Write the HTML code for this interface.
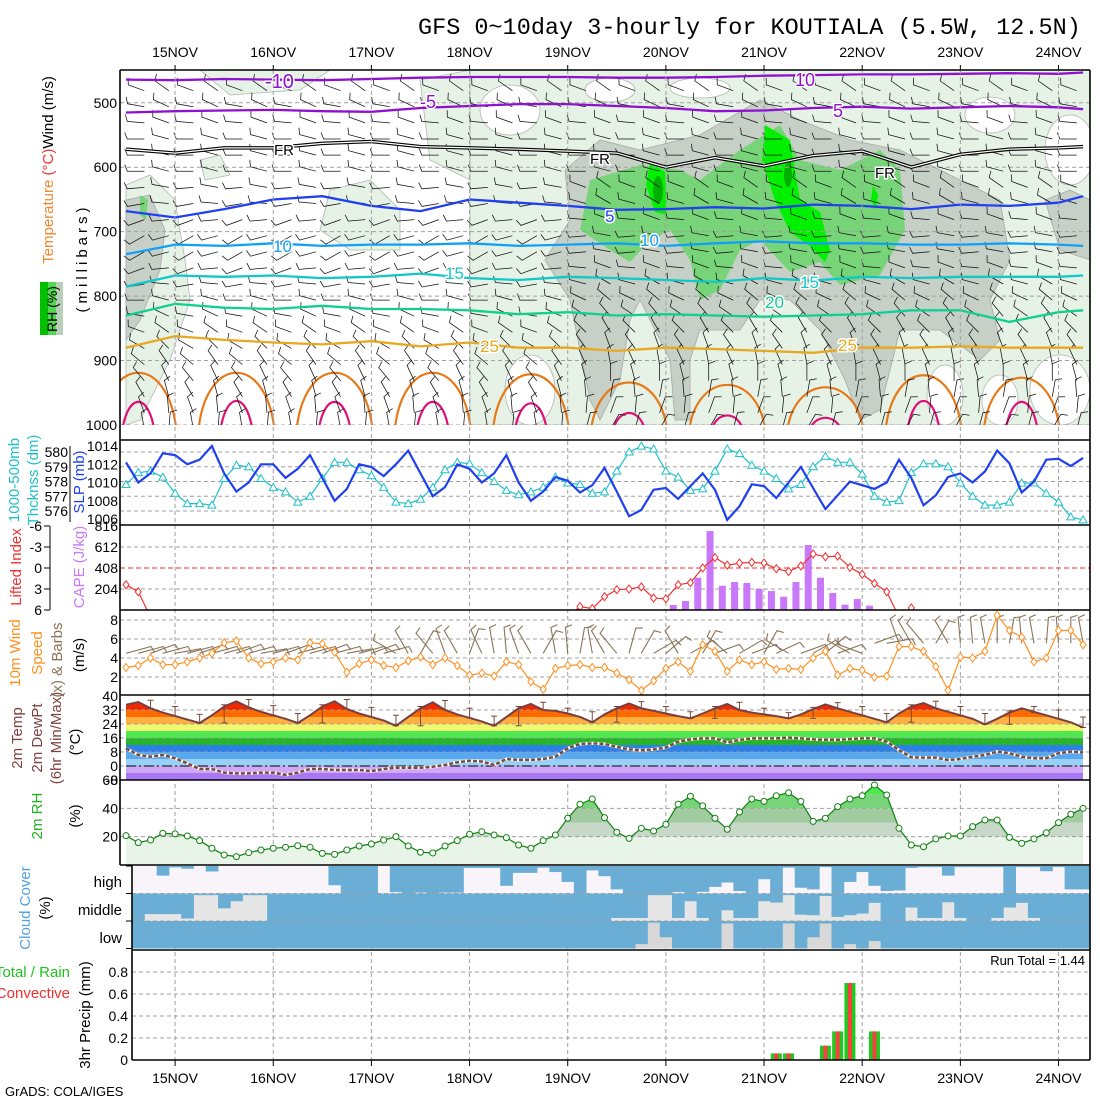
<!DOCTYPE html>
<html><head><meta charset="utf-8"><title>GFS meteogram KOUTIALA</title>
<style>
html,body{margin:0;padding:0;background:#fff;}
svg{display:block;font-family:"Liberation Sans",sans-serif;}
text{font-family:"Liberation Sans",sans-serif;}
</style></head>
<body>
<svg id="chart" xmlns="http://www.w3.org/2000/svg" width="1100" height="1100" viewBox="0 0 1100 1100">
<rect x="0" y="0" width="1100" height="1100" fill="#fff"/>
<text x="418" y="34" font-family="Liberation Mono, monospace" style="font-family:'Liberation Mono',monospace" font-size="23.5" fill="#000">GFS 0~10day 3-hourly for KOUTIALA (5.5W, 12.5N)</text>
<g id="layer-top"></g>
<g id="layer-main"></g>
<g id="labels" font-size="15">
  <text transform="translate(53,170) rotate(-90)" text-anchor="middle"><tspan fill="#f08830">Temperature</tspan><tspan fill="#f03030"> (°C)</tspan><tspan fill="#000">Wind (m/s)</tspan></text>
  <text transform="translate(87,258) rotate(-90)" text-anchor="middle" letter-spacing="4" fill="#000">(millibars)</text>
  <rect x="40" y="282" width="8" height="53" fill="#00c000"/>
  <rect x="48" y="282" width="8" height="53" fill="#50d850"/>
  <rect x="56" y="282" width="7" height="53" fill="#b8d0b8"/>
  <text transform="translate(57,309) rotate(-90)" text-anchor="middle" fill="#000" font-size="14">RH (%)</text>
  <text transform="translate(19,480) rotate(-90)" text-anchor="middle" fill="#20c0c8">1000-500mb</text>
  <text transform="translate(38,480) rotate(-90)" text-anchor="middle" fill="#20c0c8">Thcknss (dm)</text>
  <text transform="translate(84,482) rotate(-90)" text-anchor="middle" fill="#2040f0">SLP (mb)</text>
  <text transform="translate(21,567) rotate(-90)" text-anchor="middle" fill="#f03030">Lifted Index</text>
  <text transform="translate(84,567) rotate(-90)" text-anchor="middle" fill="#c878f8">CAPE (J/kg)</text>
  <text transform="translate(20,653) rotate(-90)" text-anchor="middle" fill="#ff9020">10m Wind</text>
  <text transform="translate(42,653) rotate(-90)" text-anchor="middle" fill="#ff9020">Speed</text>
  <text transform="translate(62,660) rotate(-90)" text-anchor="middle" fill="#8a7458">(x) &amp; Barbs</text>
  <text transform="translate(84,655) rotate(-90)" text-anchor="middle" fill="#000">(m/s)</text>
  <text transform="translate(22,738) rotate(-90)" text-anchor="middle" fill="#804040">2m Temp</text>
  <text transform="translate(42,738) rotate(-90)" text-anchor="middle" fill="#804040">2m DewPt</text>
  <text transform="translate(61,738) rotate(-90)" text-anchor="middle" fill="#804040">(6hr Min/Max)</text>
  <text transform="translate(80,742) rotate(-90)" text-anchor="middle" fill="#000">(°C)</text>
  <text transform="translate(42,816) rotate(-90)" text-anchor="middle" fill="#20b020">2m RH</text>
  <text transform="translate(80,816) rotate(-90)" text-anchor="middle" fill="#000">(%)</text>
  <text transform="translate(30,908) rotate(-90)" text-anchor="middle" fill="#50a0e0">Cloud Cover</text>
  <text transform="translate(50,908) rotate(-90)" text-anchor="middle" fill="#000">(%)</text>
  <text x="122" y="887" text-anchor="end" fill="#000">high</text>
  <text x="122" y="915" text-anchor="end" fill="#000">middle</text>
  <text x="122" y="943" text-anchor="end" fill="#000">low</text>
  <text x="70" y="977" text-anchor="end" fill="#20c020">Total / Rain</text>
  <text x="70" y="998" text-anchor="end" fill="#f03030">Convective</text>
  <text transform="translate(90,1015) rotate(-90)" text-anchor="middle" fill="#000">3hr Precip (mm)</text>
  <text x="1085" y="965" text-anchor="end" fill="#000" font-size="13">Run Total = 1.44</text>
  <text x="5" y="1096" fill="#000" font-size="13">GrADS: COLA/IGES</text>
</g>
</svg>
<script>
// ---------------- data ----------------
const dayLabels = ['15NOV','16NOV','17NOV','18NOV','19NOV','20NOV','21NOV','22NOV','23NOV','24NOV'];
const slp = [1012.2,1010,1011,1013.2,1013,1012,1012.5,1014,1011,1009,1010,1012,1012,1010.5,1011.5,1013,1010.5,1008,1009.3,1012,1011.7,1010.7,1012,
 1013.5,1011,1008.5,1009.5,1012,1011.5,1010,1011,1013,1010,1008,1009,
 1010.6,1010.2,1008.9,1009.7,1011.6,1009,1006.3,1007,1009.2,1009.4,1008.2,1009.6,1011,1009.2,1005.9,1007.4,1009.8,1009.6,1008.3,1010,1011.7,1009.4,1007.1,1008.6,1010.1,1009.7,1009.3,1010,1012.5,1010.5,1007.5,1008.6,1010.6,1011,1010,1011.2,1013.5,1012.1,1008.9,1010.1,1012.5,1012.6,1011.8,1012.7];
const thickness = [577.8,578.6,578.7,578.3,577.2,576.5,576.5,576.4,578.2,579.1,579,578.2,577.6,577.3,576.6,577,578.2,579.3,579.3,578.8,578.4,577.6,576.6,
 576.5,576.8,577.6,578.8,579.3,579.2,578.6,578,577.4,577.1,577.3,577.6,
 578.3,577.9,577.8,577.2,577.3,578.7,580,580.4,580.2,578.7,578.3,577.4,577.5,578.7,580.2,579.9,579.1,578.7,578.2,577.5,577.8,579,579.7,579.3,579.3,578.5,577,576.6,576.7,578.6,579.2,579.2,579,577.9,577,576.4,576.4,576.6,577.9,577.9,577.2,576.6,575.6,575.4];
const liftedIndex = [2.4,3.4,7,7,7,7,7,7,7,7,7,7,7,7,7,7,7,7,7,7,7,7,7,7,7,7,7,7,7,7,7,7,7,7,7,7,7,
 5.5,5.8,4.1,3.1,3,2.7,4.3,4.4,2.4,2.1,0,-1.5,-0.4,-0.7,-0.8,-0.7,0.1,0.5,-0.3,-2,-1.6,-1.7,-0.1,0.9,2.2,3.4,
 7,5.7,7,7,7,7,7,7,7,7,7,7,7,7,7,7];
const capeStart = 45;
const cape = [49,87,314,767,236,272,262,204,184,129,272,631,314,165,52,107,42];
const windSpeed = [3.0,3.2,4.0,3.3,3.3,3.6,4.0,4.5,5.6,5.8,4.0,3.4,3.6,4.0,3.8,5.6,5.5,4.6,2.5,3.4,3.8,3.2,
 3.0,3.7,4.1,3.3,4.0,3.2,2.2,2.4,2.1,3.6,3.3,1.5,0.7,2.9,3.2,3.3,3.0,3.0,2.4,1.7,0.6,1.6,2.9,3.6,2.6,5.4,4.7,2.6,3.8,3.3,3.6,2.8,2.9,2.8,4.0,4.7,2.2,2.9,2.7,2.0,2.1,5.2,5.2,4.7,3.1,0.6,4.1,4.0,4.7,8.5,6.9,6.2,3.6,4.0,6.9,6.9,5.4];
const windDir = [-15,-15,-20,-15,-10,-15,-20,-15,-15,-20,-15,-10,-15,-20,-15,-15,-20,-15,-10,-15,-20,-15,
 -150,-120,-60,-130,-110,-120,-70,-115,-100,-95,-110,-120,-60,-100,-95,-80,-100,-120,-130,-75,-60,-30,-40,-120,-30,-60,-20,-140,-30,-20,-60,-25,-150,-20,-30,-40,-20,-150,-160,-20,-10,-110,-120,-130,-60,-120,-95,-95,-100,-90,-80,-95,-100,-85,-95,-90,-100,-90,-95];
const temp2m = [35,36.6,33,30.5,28.5,26.5,24.6,29,34,37,33.5,31,29,27,24.6,29,34,37,32.5,30,28,26,23,28,33,36.4,32,29.5,27.5,25.5,23,28,33,35.4,32,31.5,30,28,25,29.5,33,35.8,33,31.5,30,28.5,27.2,30,33,35.4,32,30.5,29.5,28.5,27.2,29.5,32.5,35.2,33,31,29,27,25,30,34,36,33,31,29,27,23.8,27,30.5,33,31,29,27,25,22];
const dewpt2m = [10.1,6.3,5.3,6.3,4.4,1.5,-1.7,-1.7,-3.8,-4.2,-4.2,-3.8,-3.8,-5.1,-3.8,-1.7,-1.7,-2.3,-2.3,-2.3,-2.9,-1.7,
 -1.0,-1.0,-1.0,-0.4,0.6,2.1,3.0,2.6,0.6,4.0,3.5,3.5,4.0,5.3,10.1,12.6,13,12.6,11,9.5,9,9.5,10.5,13.9,15.2,15.8,15.8,13.5,14.9,15.8,15.8,15.8,16.2,15.8,15.2,14.9,14.9,15.4,15.8,15.8,13.9,9.1,5,4.8,4.8,3.4,4,5.3,6.3,8.2,7.3,5.3,4.4,4.4,7.3,8.2,7.8];
const rh2m = [20.7,15.8,17.6,22.4,22,20.5,17.2,11.8,7.1,5.9,8.7,10.6,11.8,12.5,13.6,12.5,8.2,7.5,10.6,13.4,14.8,17.6,20,
 13.4,9,8.5,13.4,17.2,21.7,23.5,21.2,19.3,14.1,11.8,17.2,21.2,33,42.9,46.6,33.4,23.1,18.8,25.9,24,28.7,42.9,48.5,41.7,33,25.2,37.4,46.6,44.9,48.9,51,44.9,30.8,33,41.2,46.6,48.9,56.5,49.4,25.9,14.1,12.9,18.4,20.5,20.5,27.1,31.8,31.8,19.5,15.3,18.4,22.8,29.9,35.8,40];
const cloudHigh = [0,0,0,35,5,10,0,20,0,0,0,0,0,0,0,0,0,70,100,100,100,0,95,100,97,100,97,97,7,7,7,72,25,25,6,22,58,100,16,37,85,100,100,100,100,95,100,94,76,60,91,100,48,100,6,79,85,4,100,58,22,72,91,89,7,4,4,35,4,4,4,4,100,4,4,19,4,85,85];
const cloudMid = [100,100,75,75,75,91,6,6,54,28,6,6,100,100,100,100,100,100,100,100,100,100,100,100,100,100,100,100,100,100,100,100,100,100,100,100,100,100,100,100,89,89,89,6,6,89,28,89,100,61,89,89,28,33,6,77,79,9,85,79,73,34,100,100,51,89,89,32,89,100,100,89,51,34,89,100,100,100,100];
const cloudLow = [100,100,100,100,100,100,100,100,100,100,100,100,100,100,100,100,100,100,100,100,100,100,100,100,100,100,100,100,100,100,100,100,100,100,100,100,100,100,100,100,100,100,84,6,59,100,100,100,100,9,100,100,100,100,9,100,59,9,100,84,100,73,100,100,100,100,100,100,100,100,100,100,100,100,100,100,100,100,100];
const precipIdx = [53,54,57,58,59,61];
const precipTotal = [0.06,0.06,0.13,0.26,0.70,0.26];
const precipConv = [0.06,0.06,0.13,0.26,0.70,0.26];
const isoIdx = [0,4,8,12,16,20,24,28,32,36,40,44,48,52,56,60,64,68,72,76,78];
const isoM10 = [464,465,463,464,465,463,461,460,460,460,461,461,460,458,457,456,456,455,454,455,453];
const isoM5 = [515,513,512,511,513,514,508,505,502,502,505,508,513,512,508,506,509,507,505,507,510];
const isoFR = [572,578,570,570,563,560,568,570,572,575,578,600,585,598,582,575,600,580,572,570,568];
const iso5 = [668,678,665,650,645,660,668,650,655,660,666,665,662,664,658,660,665,658,660,655,645];
const iso10 = [735,720,722,718,722,720,720,718,722,720,718,722,718,715,718,718,720,720,718,720,722];
const iso15 = [785,768,770,768,772,770,765,772,775,770,772,775,778,772,776,770,772,770,770,770,768];
const iso20 = [830,812,818,820,815,820,820,822,828,825,830,828,830,832,830,828,822,822,840,825,822];
const iso25 = [880,862,868,872,875,870,878,872,880,880,885,880,882,885,888,880,880,878,880,880,880];
const archIdx = [1,9,17,25,33,41,49,57,65,73];
const arch30Top = [905,905,905,905,908,925,930,935,910,915];
const arch35Top = [962,960,962,962,965,985,990,995,960,962];
const barbLevels = [475,500,525,550,575,600,625,650,675,700,725,750,775,800,825,850,875,900,925,950,975,1000];
const barbLevelAngle = [200,190,185,180,180,180,175,170,160,150,150,160,170,180,190,200,210,220,230,240,250,260];

// ---------------- axes ----------------
const NS = 'http://www.w3.org/2000/svg';
const X0 = 126, DX = 12.27;
function xI(i){ return X0 + DX*i; }
function yP(p){ return 425 - (1000-p)*0.6444; }
function ySlp(v){ return 446 + (1014-v)*9.125; }
function yThk(v){ return 452 + (580-v)*14.75; }
function yCape(v){ return 610 - v*(84/816); }
function yLI(v){ return 568 + v*7; }
function yW(v){ return 696 - v*9.5; }
function yT(v){ return 766 - v*1.75; }
function yRH(v){ return 865 - v*1.417; }
function yPr(v){ return 1060 - v*110; }

const topLayer = document.getElementById('layer-top');
const mainLayer = document.getElementById('layer-main');
function add(parent, tag, attrs, txt){
  const el = document.createElementNS(NS, tag);
  for (const k in attrs) el.setAttribute(k, attrs[k]);
  if (txt !== undefined) el.textContent = txt;
  parent.appendChild(el);
  return el;
}
function linePath(xs, ys){ return xs.map((x,k)=>(k?'L':'M')+x.toFixed(1)+','+ys[k].toFixed(1)).join(''); }

const defs = add(document.getElementById('chart'), 'defs', {});
function makeClip(id, x, y, w, h){ const c = add(defs,'clipPath',{id:id}); add(c,'rect',{x:x,y:y,width:w,height:h}); }
makeClip('cTop',120,70,970,355); makeClip('cLI',120,525,970,85); makeClip('cW',120,610,970,85);

// ---------------- top panel ----------------
const gTop = add(topLayer,'g',{'clip-path':'url(#cTop)'});


const lightAreas = [
 'M470,70 L1090,70 L1090,425 L470,425 Z',
 'M126,185 L150,175 L175,200 L185,260 L190,300 L170,360 L140,420 L126,425 Z',
 'M200,70 L330,70 L300,90 L230,95 Z',
 'M330,190 L370,180 L400,210 L400,250 L350,250 L320,230 Z',
 'M420,80 L470,70 L470,180 L430,160 Z',
 'M200,160 L220,155 L230,175 L205,180 Z'
];
lightAreas.forEach(d=>{ const e = add(gTop,'path',{d:d, fill:'#e6f2e6', stroke:'#b0b8b0','stroke-width':0.8});
 
  });
const whiteAreas = [[610,90,25,12],[700,88,30,10],[990,115,25,18],[1070,150,25,35],[1060,390,30,35],[1000,400,18,25],[510,110,30,25],[530,390,25,35],[945,395,18,30]];
whiteAreas.forEach(a=>{ const e = add(gTop,'ellipse',{cx:a[0],cy:a[1],rx:a[2],ry:a[3],fill:'#fff',stroke:'#b0b8b0','stroke-width':0.8});
 
  });
const greyD = 'M565,170 L600,140 L640,150 L700,135 L760,100 L800,120 L850,140 L900,150 L960,180 L1000,200 L1010,260 L990,300 L1000,340 L980,360 L940,330 L900,330 L880,410 L860,420 L845,380 L820,330 L790,300 L760,300 L740,330 L700,330 L690,360 L690,420 L675,420 L670,360 L640,300 L630,320 L620,380 L600,420 L590,400 L580,350 L570,300 L545,260 L570,220 Z M126,200 L150,195 L165,230 L160,270 L140,320 L126,340 Z M1045,200 L1070,190 L1090,200 L1090,260 L1060,250 Z';
const grey = add(gTop,'path',{d:greyD, fill:'#c6d0c6', stroke:'#a8a8a8','stroke-width':0.8});


const greenD = 'M590,180 L640,165 L680,170 L700,180 L740,150 L780,125 L800,160 L840,170 L880,150 L900,170 L905,230 L880,275 L840,285 L820,262 L790,272 L760,240 L740,250 L720,290 L700,300 L690,260 L670,230 L650,240 L630,262 L610,250 L580,230 Z M140,195 L148,200 L146,220 L140,215 Z';
const green = add(gTop,'path',{d:greenD, fill:'#78d478'});


const brightD = 'M650,162 L665,172 L667,215 L655,212 L646,185 Z M765,125 L790,140 L800,200 L820,212 L830,250 L825,262 L810,246 L790,232 L775,200 L762,160 Z M873,185 L878,195 L876,210 L871,200 Z';
const bright = add(gTop,'path',{d:brightD, fill:'#00f000'});


[[658,190,5,14],[788,175,4,12]].forEach(a=>{ const e = add(gTop,'ellipse',{cx:a[0],cy:a[1],rx:a[2],ry:a[3],fill:'#00b000'});
 
  });

[500,600,700,800,900,1000].forEach(p=>{ const e = add(gTop,'line',{x1:120,x2:1090,y1:yP(p),y2:yP(p),stroke:'#a0a0a0','stroke-dasharray':'4,3','stroke-width':1});
 
  });

archIdx.forEach((ai,k)=>{
  const cx = xI(ai), b = yP(1000), t30 = yP(arch30Top[k]), t35 = yP(arch35Top[k]);
  const a30 = add(gTop,'path',{d:`M${cx-38},${b+5} C${cx-30},${t30-10} ${cx+30},${t30-10} ${cx+38},${b+5}`, fill:'none', stroke:'#e87818','stroke-width':2.2});
  
  
  const a35 = add(gTop,'path',{d:`M${cx-16},${b+5} C${cx-10},${t35-8} ${cx+10},${t35-8} ${cx+16},${b+5}`, fill:'none', stroke:'#e0107a','stroke-width':2.2});
  
  
});

barbLevels.forEach((p,li)=>{
  for (let i=1;i<79;i+=2){
    const x = xI(i)+6, y = yP(p) + 4;
    const shift = [0,15,-10,5][i%4===1?0:1] + (i>36 && p>600 ? 25 : 0);
    const a = (barbLevelAngle[li] + shift) * Math.PI/180;
    const x2 = x + 17*Math.cos(a), y2 = y + 17*Math.sin(a);
    const a2 = a + 1.2;
    const b = add(gTop,'path',{d:`M${x.toFixed(1)},${y.toFixed(1)}L${x2.toFixed(1)},${y2.toFixed(1)}L${(x2+7*Math.cos(a2)).toFixed(1)},${(y2+7*Math.sin(a2)).toFixed(1)}`, fill:'none', stroke:'#111','stroke-width':0.75});
    
    
  }
});

const isoXs = isoIdx.map(xI);
[[isoM10,'#9010d0','isotherm-minus10'],[isoM5,'#9010d0','isotherm-minus5'],[iso5,'#2040f0','isotherm-5'],[iso10,'#10a0f8','isotherm-10'],[iso15,'#10c8c8','isotherm-15'],[iso20,'#10d090','isotherm-20'],[iso25,'#e8a820','isotherm-25']].forEach(s=>{
  const e = add(gTop,'path',{d:linePath(isoXs, s[0].map(yP)), fill:'none', stroke:s[1], 'stroke-width':2.3});
  
  
});
const fr1 = add(gTop,'path',{d:linePath(isoXs, isoFR.map(yP)), fill:'none', stroke:'#000','stroke-width':3.5});


const fr2 = add(gTop,'path',{d:linePath(isoXs, isoFR.map(yP)), fill:'none', stroke:'#fff','stroke-width':1.2});


[[265,88,'-10','#9010d0',20],[795,86,'10','#9010d0',18],[420,108,'-5','#9010d0',18],[833,117,'5','#9010d0',18],[274,155,'FR','#000',15],[590,164,'FR','#000',15],[875,178,'FR','#000',15],[605,222,'5','#2040f0',17],[273,252,'10','#10a0f8',17],[640,246,'10','#10a0f8',17],[445,279,'15','#10c8c8',17],[800,288,'15','#10c8c8',17],[765,308,'20','#10d090',17],[480,352,'25','#e8a820',17],[838,351,'25','#e8a820',17]].forEach(l=>{
  const t = add(gTop,'text',{x:l[0],y:l[1],fill:l[3],'font-size':l[4],stroke:'#fff','stroke-width':3,'paint-order':'stroke'}, l[2]);
  
  
});

// ---------------- shared grid / frames ----------------
dayLabels.forEach((d,k)=>{
  const x = xI(4+8*k);
  const g = add(mainLayer,'line',{x1:x,x2:x,y1:70,y2:1060,stroke:'#a0a0a0','stroke-dasharray':'4,3','stroke-width':1});
  
  
  const t1 = add(mainLayer,'text',{x:x,y:57,'text-anchor':'middle','font-size':14,fill:'#000'}, d);
  
  
  const t2 = add(mainLayer,'text',{x:x,y:1083,'text-anchor':'middle','font-size':14,fill:'#000'}, d);
  
  
  const tk1 = add(mainLayer,'line',{x1:x,x2:x,y1:65,y2:70,stroke:'#000'});
  
  
  const tk2 = add(mainLayer,'line',{x1:x,x2:x,y1:1060,y2:1066,stroke:'#000'});
  
  
});
function hgrid(y, x1, color, dash){ const e = add(mainLayer,'line',{x1:x1||120,x2:1090,y1:y,y2:y,stroke:color||'#a0a0a0','stroke-dasharray':dash||'4,3','stroke-width':1});
  
   }
function tickLabel(x, y, txt, anchor){ const e = add(mainLayer,'text',{x:x,y:y+5,'text-anchor':anchor||'end','font-size':14,fill:'#000'}, txt);
  
   }
[500,600,700,800,900,1000].forEach(p=>tickLabel(117,yP(p),String(p)));

// ---------------- SLP / thickness ----------------
[580,579,578,577,576].forEach(v=>{ hgrid(yThk(v)); tickLabel(68,yThk(v),String(v)); });
[1014,1012,1010,1008,1006].forEach(v=>tickLabel(118,ySlp(v),String(v)));
const idxs = slp.map((_,i)=>i);
const thkLine = add(mainLayer,'path',{d:linePath(idxs.map(xI), thickness.map(yThk)), fill:'none', stroke:'#20c0c8','stroke-width':1.2});


thickness.forEach((v,i)=>{ const x=xI(i), y=yThk(v);
  const m = add(mainLayer,'path',{d:`M${x},${y-4}L${x+4},${y+3}L${x-4},${y+3}Z`, fill:'#fff', stroke:'#20c0c8','stroke-width':1});
  
   });
const slpLine = add(mainLayer,'path',{d:linePath(idxs.map(xI), slp.map(ySlp)), fill:'none', stroke:'#2040f0','stroke-width':2.2});



// ---------------- CAPE / LI ----------------
[547,589].forEach(y=>hgrid(y));
hgrid(568,120,'#f03030','5,3');
[['816',526],['612',547],['408',568],['204',589]].forEach(a=>tickLabel(118,a[1],a[0]));
[[-6,'-6'],[-3,'-3'],[0,'0'],[3,'3'],[6,'6']].forEach(a=>{ tickLabel(42,yLI(a[0]),a[1]);
  const tk = add(mainLayer,'line',{x1:44,x2:50,y1:yLI(a[0]),y2:yLI(a[0]),stroke:'#000'});
  
   });
const liAxis = add(mainLayer,'line',{x1:50,x2:50,y1:526,y2:610,stroke:'#000'});


const thkAxis = add(mainLayer,'line',{x1:70,x2:70,y1:446,y2:522,stroke:'#000'});


cape.forEach((v,k)=>{ const x = xI(capeStart+k-0.4);
  const b = add(mainLayer,'rect',{x:x-3.5,y:yCape(v),width:7,height:610-yCape(v),fill:'#c878f8'});
  
   });
const gLI = add(mainLayer,'g',{'clip-path':'url(#cLI)'});


const liLine = add(gLI,'path',{d:linePath(idxs.map(xI), liftedIndex.map(yLI)), fill:'none', stroke:'#f03030','stroke-width':1.2});


liftedIndex.forEach((v,i)=>{ if(v<6.5){ const x=xI(i), y=yLI(v);
  const m = add(gLI,'path',{d:`M${x},${y-4}L${x+3},${y}L${x},${y+4}L${x-3},${y}Z`, fill:'#fff', stroke:'#f03030','stroke-width':1});
  
   } });

// ---------------- 10m wind ----------------
[[8,'8'],[6,'6'],[4,'4'],[2,'2']].forEach(a=>{ hgrid(yW(a[0])); tickLabel(118,yW(a[0]),a[1]); });
const gW = add(mainLayer,'g',{'clip-path':'url(#cW)'});


windDir.forEach((d,i)=>{ const x=xI(i), y=yW(4.5)+ (i>60?-10:0);
  const a = d*Math.PI/180, L = 26;
  const x2 = x+L*Math.cos(a), y2 = y+L*Math.sin(a), a2 = a+1.3;
  const b = add(gW,'path',{d:`M${x.toFixed(1)},${y.toFixed(1)}L${x2.toFixed(1)},${y2.toFixed(1)}L${(x2+7*Math.cos(a2)).toFixed(1)},${(y2+7*Math.sin(a2)).toFixed(1)}`, fill:'none', stroke:'#8a7458','stroke-width':1.1});
  
   });
const wLine = add(gW,'path',{d:linePath(idxs.map(xI), windSpeed.map(yW)), fill:'none', stroke:'#ff9020','stroke-width':1.2});


windSpeed.forEach((v,i)=>{ const x=xI(i), y=yW(v);
  const m = add(gW,'path',{d:`M${x},${y-4}L${x+3},${y}L${x},${y+4}L${x-3},${y}Z`, fill:'#fff', stroke:'#ff9020','stroke-width':1});
  
   });

// ---------------- temperature ----------------
const tempBands = [[-8,-4,'#a878f4'],[-4,0,'#d0a8f8'],[0,4,'#98d0f8'],[4,8,'#58a8f0'],[8,12,'#2c80e8'],[12,16,'#28b428'],[16,20,'#50e850'],[20,24,'#f0f870'],[24,28,'#ffb040'],[28,32,'#ff6a00'],[32,40,'#f02a00']];
const tClip = add(defs,'clipPath',{id:'cTemp'});
add(tClip,'path',{d:linePath(idxs.map(xI), temp2m.map(yT)) + `L${xI(78)},780L${xI(0)},780Z`});
const gT = add(mainLayer,'g',{'clip-path':'url(#cTemp)'});


tempBands.forEach(b=>{ const r = add(gT,'rect',{x:xI(0),y:yT(b[1]),width:xI(78)-xI(0),height:yT(b[0])-yT(b[1]),fill:b[2]});
  
   });
[[40,'40'],[32,'32'],[24,'24'],[16,'16'],[8,'8'],[0,'0'],[-8,'-8']].forEach(a=>{ if(a[0]<40&&a[0]>-8) hgrid(yT(a[0])); tickLabel(118,yT(a[0]),a[1]); });
hgrid(yT(0),126,'#000','10,3,2,3');
temp2m.forEach((v,i)=>{ if(i%2===0 && i>=2){ const w=temp2m.slice(i-2,i+1); const hi=Math.max(...w), lo=Math.min(...w); const x=xI(i);
  const e = add(mainLayer,'path',{d:`M${x},${yT(hi+1)}L${x},${yT(lo)}M${x-3},${yT(hi+1)}L${x+3},${yT(hi+1)}M${x-3},${yT(lo)}L${x+3},${yT(lo)}`, stroke:'#7a4a3a','stroke-width':1, fill:'none'});
  
   } });
const tLine = add(mainLayer,'path',{d:linePath(idxs.map(xI), temp2m.map(yT)), fill:'none', stroke:'#7a4040','stroke-width':2});


const dLine0 = add(mainLayer,'path',{d:linePath(idxs.map(xI), dewpt2m.map(yT)), fill:'none', stroke:'#fff','stroke-width':3});


const dLine = add(mainLayer,'path',{d:linePath(idxs.map(xI), dewpt2m.map(yT)), fill:'none', stroke:'#7a4a3a','stroke-width':2.5,'stroke-dasharray':'4,2'});



// ---------------- RH ----------------
const rhBands = [[0,20,'#e8f4e8'],[20,30,'#c8d8c8'],[30,40,'#a0cca0'],[40,50,'#78d478'],[50,60,'#50e850']];
const rClip = add(defs,'clipPath',{id:'cRH'});
add(rClip,'path',{d:linePath(idxs.map(xI), rh2m.map(yRH)) + `L${xI(78)},865L${xI(0)},865Z`});
const gR = add(mainLayer,'g',{'clip-path':'url(#cRH)'});


rhBands.forEach(b=>{ const r = add(gR,'rect',{x:xI(0),y:yRH(b[1]),width:xI(78)-xI(0),height:yRH(b[0])-yRH(b[1]),fill:b[2]});
  
   });
[[40,'40'],[20,'20']].forEach(a=>{ hgrid(yRH(a[0])); tickLabel(118,yRH(a[0]),a[1]); });
tickLabel(118,yRH(60),'60');
const rLine = add(mainLayer,'path',{d:linePath(idxs.map(xI), rh2m.map(yRH)), fill:'none', stroke:'#108010','stroke-width':1.2});


rh2m.forEach((v,i)=>{ const c = add(mainLayer,'circle',{cx:xI(i),cy:yRH(v),r:3,fill:'#fff',stroke:'#108010','stroke-width':1});
  
   });

// ---------------- cloud cover ----------------
const cloudRows = [[cloudHigh,866,27.5,'#f8f4fa','cloud-high'],[cloudMid,893.5,27.5,'#e6e6e6','cloud-middle'],[cloudLow,921,27.5,'#d8d8d8','cloud-low']];
cloudRows.forEach(r=>{
  const bg = add(mainLayer,'rect',{x:132,y:r[1],width:958,height:r[2],fill:r[3]});
  
  
  r[0].forEach((v,i)=>{ let x1 = Math.max(132, xI(i-0.5)), x2 = Math.min(1090, xI(i+0.5));
    if (i===r[0].length-1) x2 = 1090;
    if (x2<=x1 || v<=0) return;
    const b = add(mainLayer,'rect',{x:x1,y:r[1],width:x2-x1+0.4,height:r[2]*v/100,fill:'#6aaed6'});
    
     });
});
[893.5,921].forEach(y=>hgrid(y,132));
[866,893.5,921,948.5].forEach(y=>{ const t = add(mainLayer,'line',{x1:126,x2:132,y1:y,y2:y,stroke:'#000'});
  
   });

// ---------------- precipitation ----------------
[[0.8,'0.8'],[0.6,'0.6'],[0.4,'0.4'],[0.2,'0.2']].forEach(a=>{ hgrid(yPr(a[0]),132); tickLabel(128,yPr(a[0]),a[1]); });
tickLabel(128,yPr(0),'0');
precipIdx.forEach((ii,k)=>{ const x = xI(ii);
  const g = add(mainLayer,'rect',{x:x-5.5,y:yPr(precipTotal[k]),width:11,height:1060-yPr(precipTotal[k]),fill:'#20c820'});
  
  
  const r = add(mainLayer,'rect',{x:x-2,y:yPr(precipConv[k]),width:4,height:1060-yPr(precipConv[k]),fill:'#f84040'});
  
   });

// ---------------- frames ----------------
[[120,70,1090,70],[120,70,120,525],[120,525,120,865],[1090,70,1090,1060],[120,440,1090,440],[120,525,1090,525],[120,610,1090,610],[120,695,1090,695],[120,780,1090,780],[120,865,1090,865],[132,865,132,1060],[132,950,1090,950],[132,1060,1090,1060]].forEach(l=>{
  const e = add(mainLayer,'line',{x1:l[0],y1:l[1],x2:l[2],y2:l[3],stroke:'#000','stroke-width':1.6});
  
   });
</script>
</body></html>
